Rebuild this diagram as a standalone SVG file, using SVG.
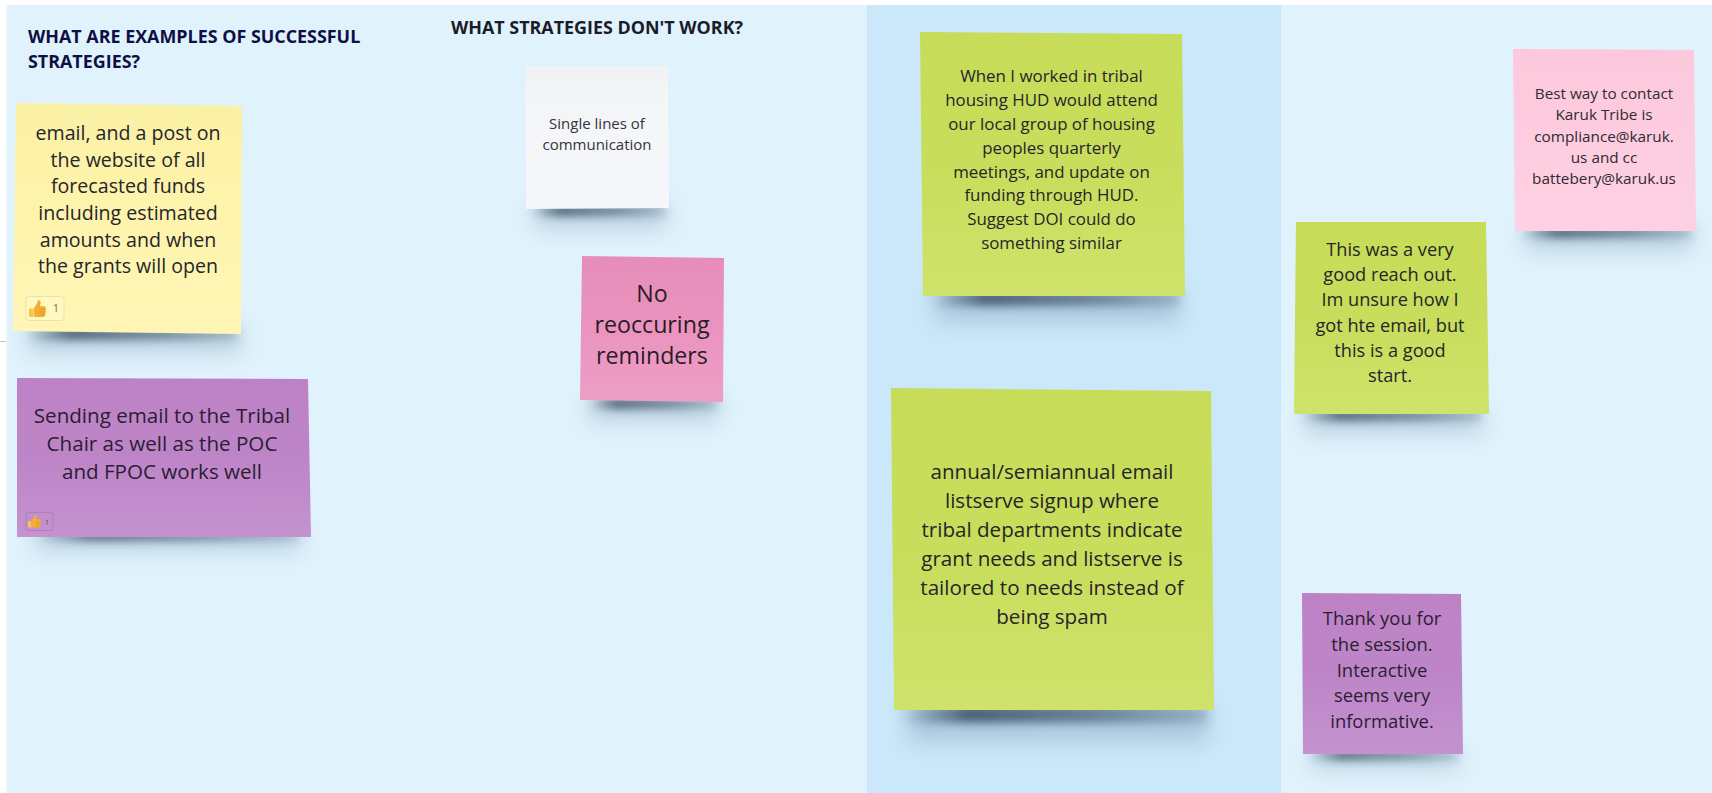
<svg xmlns="http://www.w3.org/2000/svg" xmlns:xlink="http://www.w3.org/1999/xlink" width="1712" height="793" viewBox="0 0 1712 793">
<style>
text{font-family:"Open Sans","Noto Sans","Liberation Sans",sans-serif;text-anchor:middle;fill:#25252a}
.h{font-weight:700;text-anchor:start}
.dark{fill:#2b1d35}
.cnt{font-size:11px;fill:#77705a}
.sh1{filter:url(#b1);fill:url(#sg)}
.sh2{filter:url(#b2);fill:#5d7f9c;opacity:.3}
</style>
<defs>
<filter id="b1" x="-20%" y="-150%" width="140%" height="400%"><feGaussianBlur stdDeviation="4"/></filter>
<filter id="b2" x="-20%" y="-150%" width="140%" height="400%"><feGaussianBlur stdDeviation="11"/></filter>
<linearGradient id="sg"><stop offset="0" stop-color="#33475c" stop-opacity="0"/><stop offset=".22" stop-color="#33475c" stop-opacity=".8"/><stop offset=".65" stop-color="#33475c" stop-opacity=".55"/><stop offset="1" stop-color="#33475c" stop-opacity=".2"/></linearGradient>
<linearGradient id="gy" x1="0" y1="0" x2="0" y2="1"><stop offset="0" stop-color="#faf1a5"/><stop offset=".4" stop-color="#fdf3aa"/><stop offset="1" stop-color="#fff6b6"/></linearGradient>
<linearGradient id="gv" x1="0" y1="0" x2="0" y2="1"><stop offset="0" stop-color="#bd82c5"/><stop offset=".5" stop-color="#bd85c7"/><stop offset="1" stop-color="#c492cf"/></linearGradient>
<linearGradient id="gw" x1="0" y1="0" x2="0" y2="1"><stop offset="0" stop-color="#f1f2f4"/><stop offset=".2" stop-color="#f3f5f7"/><stop offset="1" stop-color="#f5f7fa"/></linearGradient>
<linearGradient id="gp" x1="0" y1="0" x2="0" y2="1"><stop offset="0" stop-color="#e68eb9"/><stop offset=".5" stop-color="#ea93bf"/><stop offset="1" stop-color="#ee9fc6"/></linearGradient>
<linearGradient id="gg" x1="0" y1="0" x2="0" y2="1"><stop offset="0" stop-color="#c7dc58"/><stop offset=".5" stop-color="#c8dd5b"/><stop offset="1" stop-color="#cfe36c"/></linearGradient>
<linearGradient id="gl" x1="0" y1="0" x2="0" y2="1"><stop offset="0" stop-color="#fdc8db"/><stop offset="1" stop-color="#fdd1e3"/></linearGradient>
<symbol id="thumb" viewBox="0 0 17 17">
<path d="M0 8.5h4.5V17H1.2Q0 17 0 15.8z" fill="#fbc347"/>
<path d="M5 8 8 3.5 8.6.9Q9 0 10.2.2 12 .8 11.6 3L10.9 6.2H15.2Q17 6.4 16.8 8L16.2 15.6Q16 17 14.4 17H7Q5 17 5 15.5z" fill="#f5ae2f"/>
<path d="M10.5 9.2h6M10.5 12h6M10.5 14.6h5.5" stroke="#e0901c" stroke-width=".7" fill="none"/>
</symbol>
</defs>

<rect width="1712" height="793" fill="#fff"/>
<g id="panels">
<rect x="6.5" y="5" width="860" height="788" fill="#e0f2fc"/>
<rect x="866.5" y="5" width="415" height="788" fill="#cbe8fa"/>
<rect x="1281.5" y="5" width="430.5" height="788" fill="#e0f2fc"/>
<path d="M0 341.5h6" stroke="#b5b5b5" stroke-width=".8"/>
</g>

<g id="connectors"></g>

<g id="heading-successful"><text class="h" x="28" y="43" font-size="17.9" style="fill:#0f0f45"><tspan x="28">WHAT ARE EXAMPLES OF SUCCESSFUL</tspan><tspan x="28" y="68">STRATEGIES?</tspan></text></g>
<g id="heading-dont-work"><text class="h" x="451" y="34" font-size="17.9" style="fill:#1a1c2a">WHAT STRATEGIES DON'T WORK?</text></g>

<g id="note-yellow">
<rect class="sh2" x="30" y="326" width="210" height="26"/><rect class="sh1" x="24" y="328" width="214" height="12"/>
<polygon points="16,103 242,106 241,334 13,331" fill="url(#gy)"/>
<text font-size="19.6"><tspan x="128" y="140">email, and a post on</tspan><tspan x="128" y="167">the website of all</tspan><tspan x="128" y="193">forecasted funds</tspan><tspan x="128" y="220">including estimated</tspan><tspan x="128" y="247">amounts and when</tspan><tspan x="128" y="273">the grants will open</tspan></text>
<rect x="26" y="296.5" width="38" height="24" rx="3" fill="#fff8c0" stroke="#eee3a6"/>
<use xlink:href="#thumb" href="#thumb" x="29" y="300" width="17" height="17"/>
<text class="cnt" x="56" y="312">1</text>
</g>

<g id="note-purple-chair">
<rect class="sh2" x="36" y="530" width="264" height="20"/><rect class="sh1" x="34" y="532" width="266" height="9"/>
<polygon points="17,378 308,379 311,537 17,537" fill="url(#gv)"/>
<text class="dark" font-size="20.6"><tspan x="162" y="423">Sending email to the Tribal</tspan><tspan x="162" y="451">Chair as well as the POC</tspan><tspan x="162" y="479">and FPOC works well</tspan></text>
<rect x="26" y="512.5" width="27" height="18" rx="3" fill="none" stroke="#b67dbe"/>
<use xlink:href="#thumb" href="#thumb" x="28" y="514" width="13" height="14"/>
<text class="cnt" x="47" y="525" style="font-size:8px;fill:#6e5577">1</text>
</g>

<g id="note-white">
<rect class="sh2" x="536" y="204" width="130" height="24"/><rect class="sh1" x="530" y="205" width="136" height="11"/>
<polygon points="526,66 668,66 669,208 526,209" fill="url(#gw)"/>
<text font-size="15" style="fill:#33343a"><tspan x="597" y="129">Single lines of</tspan><tspan x="597" y="150">communication</tspan></text>
</g>

<g id="note-pink">
<rect class="sh2" x="590" y="397" width="128" height="24"/><rect class="sh1" x="588" y="398" width="130" height="11"/>
<polygon points="582,256 724,258 723,402 580,400" fill="url(#gp)"/>
<text font-size="23.2" style="fill:#2a1c26"><tspan x="652" y="302">No</tspan><tspan x="652" y="333">reoccuring</tspan><tspan x="652" y="364">reminders</tspan></text>
</g>

<g id="note-green-hud">
<rect class="sh2" x="935" y="290" width="245" height="32"/><rect class="sh1" x="930" y="291" width="250" height="15"/>
<polygon points="920,32 1182,34 1185,296 923,296" fill="url(#gg)"/>
<text font-size="16.9"><tspan x="1051.5" y="82">When I worked in tribal</tspan><tspan x="1051.5" y="106">housing HUD would attend</tspan><tspan x="1051.5" y="130">our local group of housing</tspan><tspan x="1051.5" y="154">peoples quarterly</tspan><tspan x="1051.5" y="178">meetings, and update on</tspan><tspan x="1051.5" y="201">funding through HUD.</tspan><tspan x="1051.5" y="225">Suggest DOI could do</tspan><tspan x="1051.5" y="249">something similar</tspan></text>
</g>

<g id="note-green-listserve">
<rect class="sh2" x="908" y="704" width="300" height="38"/><rect class="sh1" x="900" y="705" width="308" height="18"/>
<polygon points="891,388 1211,391 1214,710 894,710" fill="url(#gg)"/>
<text font-size="20.6"><tspan x="1052" y="479">annual/semiannual email</tspan><tspan x="1052" y="508">listserve signup where</tspan><tspan x="1052" y="537">tribal departments indicate</tspan><tspan x="1052" y="566">grant needs and listserve is</tspan><tspan x="1052" y="595">tailored to needs instead of</tspan><tspan x="1052" y="624">being spam</tspan></text>
</g>

<g id="note-lightpink">
<rect class="sh2" x="1526" y="226" width="166" height="24"/><rect class="sh1" x="1520" y="227" width="172" height="11"/>
<polygon points="1513,49 1694,50 1696,231 1515,231" fill="url(#gl)"/>
<text font-size="15.3" style="fill:#2f2a33"><tspan x="1604" y="99">Best way to contact</tspan><tspan x="1604" y="120">Karuk Tribe is</tspan><tspan x="1604" y="142">compliance@karuk.</tspan><tspan x="1604" y="163">us and cc</tspan><tspan x="1604" y="184">battebery@karuk.us</tspan></text>
</g>

<g id="note-green-reachout">
<rect class="sh2" x="1306" y="409" width="176" height="24"/><rect class="sh1" x="1300" y="410" width="182" height="11"/>
<polygon points="1296,222 1486,222 1489,414 1294,414" fill="url(#gg)"/>
<text font-size="18.2"><tspan x="1390" y="256">This was a very</tspan><tspan x="1390" y="281">good reach out.</tspan><tspan x="1390" y="306">Im unsure how I</tspan><tspan x="1390" y="332">got hte email, but</tspan><tspan x="1390" y="357">this is a good</tspan><tspan x="1390" y="382">start.</tspan></text>
</g>

<g id="note-purple-thanks">
<rect class="sh2" x="1312" y="750" width="146" height="18"/><rect class="sh1" x="1308" y="751" width="150" height="9"/>
<polygon points="1302,593 1461,594 1463,754 1303,754" fill="url(#gv)"/>
<text class="dark" font-size="18.4"><tspan x="1382" y="625">Thank you for</tspan><tspan x="1382" y="651">the session.</tspan><tspan x="1382" y="677">Interactive</tspan><tspan x="1382" y="702">seems very</tspan><tspan x="1382" y="728">informative.</tspan></text>
</g>
</svg>
